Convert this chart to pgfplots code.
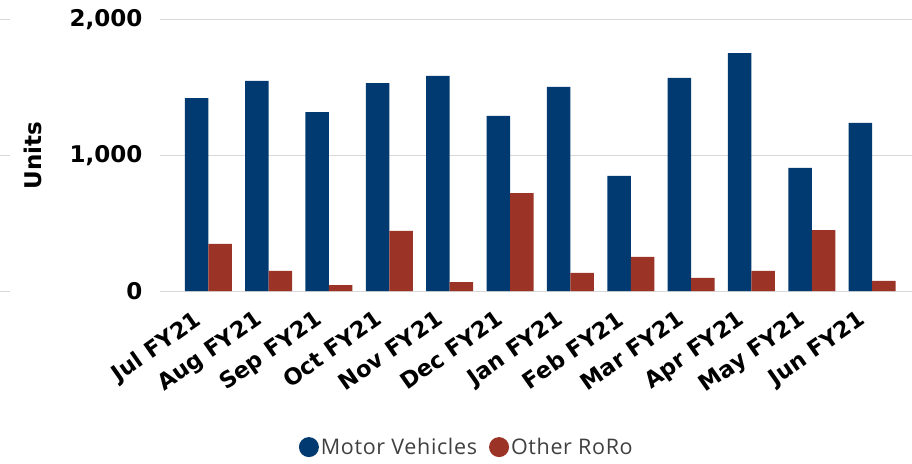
\documentclass[border=0pt]{standalone}
\usepackage{pgfplots}
\pgfplotsset{compat=1.18}
\usepackage{fontspec}
\setmainfont{Liberation Sans}
\newfontfamily\dvsans{DejaVu Sans}
\newfontfamily\legendfont[LetterSpace=3]{Open Sans}
\definecolor{mvblue}{HTML}{003A70}
\definecolor{rored}{HTML}{9B3426}
\definecolor{gridgray}{HTML}{D9D9D9}
\definecolor{legtext}{HTML}{404040}
\begin{document}
\begin{tikzpicture}
\begin{axis}[
  scale only axis,
  width=752pt, height=271pt,
  xmin=-0.8, xmax=11.66,
  ymin=0, ymax=2000,
  ybar=0pt, bar width=23.5pt,
  axis line style={draw=none},
  tick style={draw=none},
  ymajorgrids, grid style={gridgray, line width=1pt},
  ytick={0,1000,2000},
  xtick={0,...,11},
  xticklabels={Jul FY21,Aug FY21,Sep FY21,Oct FY21,Nov FY21,Dec FY21,Jan FY21,Feb FY21,Mar FY21,Apr FY21,May FY21,Jun FY21},
  /pgf/number format/assume math mode=true,
  /pgf/number format/1000 sep={,},
  yticklabel style={font=\dvsans\bfseries\fontsize{23}{23}\selectfont, xshift=-14pt},
  xticklabel style={font=\dvsans\bfseries\fontsize{22.5}{22.5}\selectfont, rotate=35, anchor=north east, xshift=-17pt, yshift=1pt},
  ylabel={Units},
  every axis y label/.style={at={(-127pt,135.5pt)}, rotate=90, anchor=center, font=\dvsans\bfseries\fontsize{23}{23}\selectfont},
  legend style={at={(0.408,-0.576)}, anchor=center, draw=none, legend columns=2,
    font=\legendfont\fontsize{21.5}{22}\selectfont, text=legtext,
    /tikz/every even column/.append style={column sep=10pt}},
  legend image code/.code={\fill[#1] (0cm,0) circle (10pt);},
]
\addplot[fill=mvblue, draw=none] coordinates {
(0,1424) (1,1550) (2,1321) (3,1535) (4,1587) (5,1292) (6,1506) (7,849) (8,1572) (9,1756) (10,908) (11,1240)};
\addplot[fill=rored, draw=none] coordinates {
(0,347) (1,148) (2,44) (3,443) (4,66) (5,723) (6,133) (7,251) (8,96) (9,148) (10,450) (11,74)};
\legend{Motor Vehicles, Other RoRo}
\end{axis}
\draw[gridgray, line width=1pt] (-160pt,0pt) -- (-150pt,0pt);
\draw[gridgray, line width=1pt] (-160pt,135.5pt) -- (-150pt,135.5pt);
\draw[gridgray, line width=1pt] (-160pt,271pt) -- (-150pt,271pt);
\pgfresetboundingbox
\path[use as bounding box] (-160pt,-172pt) rectangle (752pt,291pt);
\end{tikzpicture}
\end{document}
